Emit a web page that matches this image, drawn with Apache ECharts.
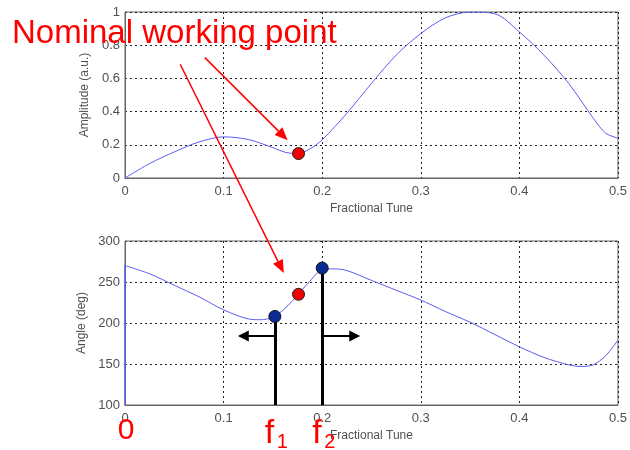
<!DOCTYPE html>
<html><head><meta charset="utf-8">
<script src="https://cdn.jsdelivr.net/npm/echarts@6/dist/echarts.min.js"></script>
<style>html,body{margin:0;padding:0;background:#fff}#c{width:630px;height:450px}</style>
</head><body><div id="c"></div>
<script>
// ---- data ----
const tuneTop = [0, 0.025, 0.05, 0.075, 0.1, 0.125, 0.15, 0.1625, 0.175, 0.1875, 0.2, 0.225, 0.25, 0.275, 0.3, 0.325, 0.35, 0.375, 0.4, 0.425, 0.45, 0.475, 0.4875, 0.5];
const amplitude = [0, 0.087, 0.157, 0.217, 0.248, 0.232, 0.183, 0.155, 0.146, 0.175, 0.23, 0.39, 0.57, 0.74, 0.87, 0.965, 1.0, 0.99, 0.88, 0.74, 0.57, 0.36, 0.27, 0.24];
const tuneBot = [0, 0, 0.025, 0.05, 0.075, 0.1, 0.125, 0.1375, 0.15, 0.1625, 0.175, 0.1875, 0.2, 0.2125, 0.225, 0.25, 0.275, 0.3, 0.325, 0.35, 0.375, 0.4, 0.425, 0.45, 0.4625, 0.475, 0.4875, 0.5];
const angle = [100, 270, 260, 246, 232, 216, 205, 204, 207, 218, 234, 251, 265, 266, 264, 252, 240, 228, 214, 201, 186, 171, 158, 149, 147, 149, 160, 179];
const nominalTune = 0.176;
const nominalAmp = 0.147;
const nominalAngle = 235;
const f1 = 0.152, f1Angle = 208;
const f2 = 0.2, f2Angle = 267;
const arrowLevel = 184;
const f1ArrowEnd = 0.12, f2ArrowEnd = 0.233;
const xTicks = [0, 0.1, 0.2, 0.3, 0.4, 0.5];
const ampTicks = [0, 0.2, 0.4, 0.6, 0.8, 1];
const angleTicks = [100, 150, 200, 250, 300];
const xLabel = 'Fractional Tune';
const ampLabel = 'Amplitude (a.u.)';
const angleLabel = 'Angle (deg)';
const noteText = 'Nominal working point';

const chart = echarts.init(document.getElementById('c'), null, {renderer: 'canvas'});
const lblColor = '#505050';
const gridLine = {show: true, lineStyle: {color: '#222', type: [2, 3], width: 1}};
function xAxis(idx) {
  return {
    type: 'value', gridIndex: idx, min: xTicks[0], max: xTicks[xTicks.length - 1], interval: 0.1,
    name: xLabel, nameLocation: 'middle', nameGap: 25,
    nameTextStyle: {color: lblColor, fontSize: 12, fontFamily: 'Liberation Sans'},
    axisLine: {show: true, onZero: false, lineStyle: {color: '#666'}},
    axisTick: {show: false},
    axisLabel: {color: lblColor, fontSize: 13, fontFamily: 'Liberation Sans', margin: 7,
      formatter: v => String(+v.toFixed(1))},
    splitLine: gridLine
  };
}
const blue = '#5c5cf2';
const curve = {smooth: 0.3, showSymbol: false, lineStyle: {color: blue, width: 1}, z: 3};
const option = {
  animation: false,
  backgroundColor: '#fff',
  grid: [
    {left: 125, top: 12, width: 498, height: 166, show: true, borderColor: '#666', borderWidth: 1},
    {left: 125, top: 241, width: 498, height: 164, show: true, borderColor: '#666', borderWidth: 1}
  ],
  xAxis: [xAxis(0), xAxis(1)],
  yAxis: [
    {type: 'value', gridIndex: 0, min: ampTicks[0], max: ampTicks[ampTicks.length - 1], interval: 0.2,
      name: ampLabel, nameLocation: 'middle', nameGap: 32,
      nameTextStyle: {color: lblColor, fontSize: 12, fontFamily: 'Liberation Sans'},
      axisLine: {show: true, lineStyle: {color: '#666'}}, axisTick: {show: false},
      axisLabel: {color: lblColor, fontSize: 13, fontFamily: 'Liberation Sans', margin: 5,
        formatter: v => String(+v.toFixed(1))},
      splitLine: gridLine},
    {type: 'value', gridIndex: 1, min: angleTicks[0], max: angleTicks[angleTicks.length - 1], interval: 50,
      name: angleLabel, nameLocation: 'middle', nameGap: 37,
      nameTextStyle: {color: lblColor, fontSize: 12, fontFamily: 'Liberation Sans'},
      axisLine: {show: true, lineStyle: {color: '#666'}}, axisTick: {show: false},
      axisLabel: {color: lblColor, fontSize: 13, fontFamily: 'Liberation Sans', margin: 5},
      splitLine: gridLine}
  ],
  series: [
    Object.assign({type: 'line', xAxisIndex: 0, yAxisIndex: 0, data: tuneTop.map((t, i) => [t, amplitude[i]])}, curve),
    {type: 'line', xAxisIndex: 1, yAxisIndex: 1, data: tuneBot.slice(0, 2).map((t, i) => [t, angle[i]]),
      showSymbol: false, lineStyle: {color: blue, width: 1.5}, z: 3},
    Object.assign({type: 'line', xAxisIndex: 1, yAxisIndex: 1, data: tuneBot.slice(1).map((t, i) => [t, angle[i + 1]])}, curve),
    {type: 'lines', coordinateSystem: 'cartesian2d', xAxisIndex: 1, yAxisIndex: 1, z: 5,
      lineStyle: {color: '#000', width: 3, opacity: 1},
      data: [
        {coords: [[f1, f1Angle], [f1, angleTicks[0]]]},
        {coords: [[f2, f2Angle], [f2, angleTicks[0]]]}
      ]},
    {type: 'lines', coordinateSystem: 'cartesian2d', xAxisIndex: 1, yAxisIndex: 1, z: 5,
      symbol: ['none', 'triangle'], symbolSize: [10, 11],
      lineStyle: {color: '#000', width: 2, opacity: 1},
      data: [
        {coords: [[f1, arrowLevel], [f1ArrowEnd, arrowLevel]]},
        {coords: [[f2, arrowLevel], [f2ArrowEnd, arrowLevel]]}
      ]},
    {type: 'scatter', xAxisIndex: 0, yAxisIndex: 0, z: 6, symbolSize: 12,
      itemStyle: {color: '#f00000', borderColor: '#222', borderWidth: 1, opacity: 1},
      data: [[nominalTune, nominalAmp]]},
    {type: 'scatter', xAxisIndex: 1, yAxisIndex: 1, z: 6, symbolSize: 12,
      itemStyle: {color: '#f00000', borderColor: '#222', borderWidth: 1, opacity: 1},
      data: [[nominalTune, nominalAngle]]},
    {type: 'scatter', xAxisIndex: 1, yAxisIndex: 1, z: 7, symbolSize: 12,
      itemStyle: {color: '#0a2a96', borderColor: '#111', borderWidth: 1, opacity: 1},
      data: [[f1, f1Angle], [f2, f2Angle]]}
  ]
};
chart.setOption(option);

// annotations (red arrows from label into plots)
const redArrows = [
  {from: [0, 0.081, 0.725], to: [0, 0.165, 0.227]},
  {from: [0, 0.056, 0.685], to: [1, 0.161, 261]}
];
const px = (g, x, y) => chart.convertToPixel({gridIndex: g}, [x, y]);
const graphics = [];
redArrows.forEach(a => {
  const p0 = px(a.from[0], a.from[1], a.from[2]);
  const p1 = px(a.to[0], a.to[1], a.to[2]);
  const dx = p1[0] - p0[0], dy = p1[1] - p0[1];
  const L = Math.hypot(dx, dy), ux = dx / L, uy = dy / L;
  const hl = 13, hw = 5.5;
  const bx = p1[0] - ux * hl, by = p1[1] - uy * hl;
  graphics.push({type: 'line', z: 100, shape: {x1: p0[0], y1: p0[1], x2: bx, y2: by},
    style: {stroke: '#ff0000', lineWidth: 1.5}});
  graphics.push({type: 'polygon', z: 100, shape: {points: [
    [p1[0], p1[1]], [bx - uy * hw, by + ux * hw], [bx + uy * hw, by - ux * hw]]},
    style: {fill: '#ff0000'}});
});
const redFont = 'Liberation Sans';
graphics.push({type: 'text', z: 101, x: 12, y: 34,
  style: {text: noteText, fill: '#ff0000', font: '33px "' + redFont + '"', verticalAlign: 'middle', align: 'left'}});
const zeroPos = px(1, xTicks[0], angleTicks[0]);
const f1Pos = px(1, f1, angleTicks[0]);
const f2Pos = px(1, f2, angleTicks[0]);
graphics.push({type: 'text', z: 101, x: zeroPos[0] + 1, y: 431,
  style: {text: '0', fill: '#ff0000', font: '30px "' + redFont + '"', verticalAlign: 'middle', align: 'center'}});
[[f1Pos, '1'], [f2Pos, '2']].forEach(([p, s]) => {
  graphics.push({type: 'text', z: 101, x: p[0] - 10, y: 434,
    style: {text: 'f', fill: '#ff0000', font: '34px "' + redFont + '"', verticalAlign: 'middle', align: 'left'}});
  graphics.push({type: 'text', z: 101, x: p[0] + 2, y: 442,
    style: {text: s, fill: '#ff0000', font: '20px "' + redFont + '"', verticalAlign: 'middle', align: 'left'}});
});
chart.setOption({graphic: graphics});
</script></body></html>
